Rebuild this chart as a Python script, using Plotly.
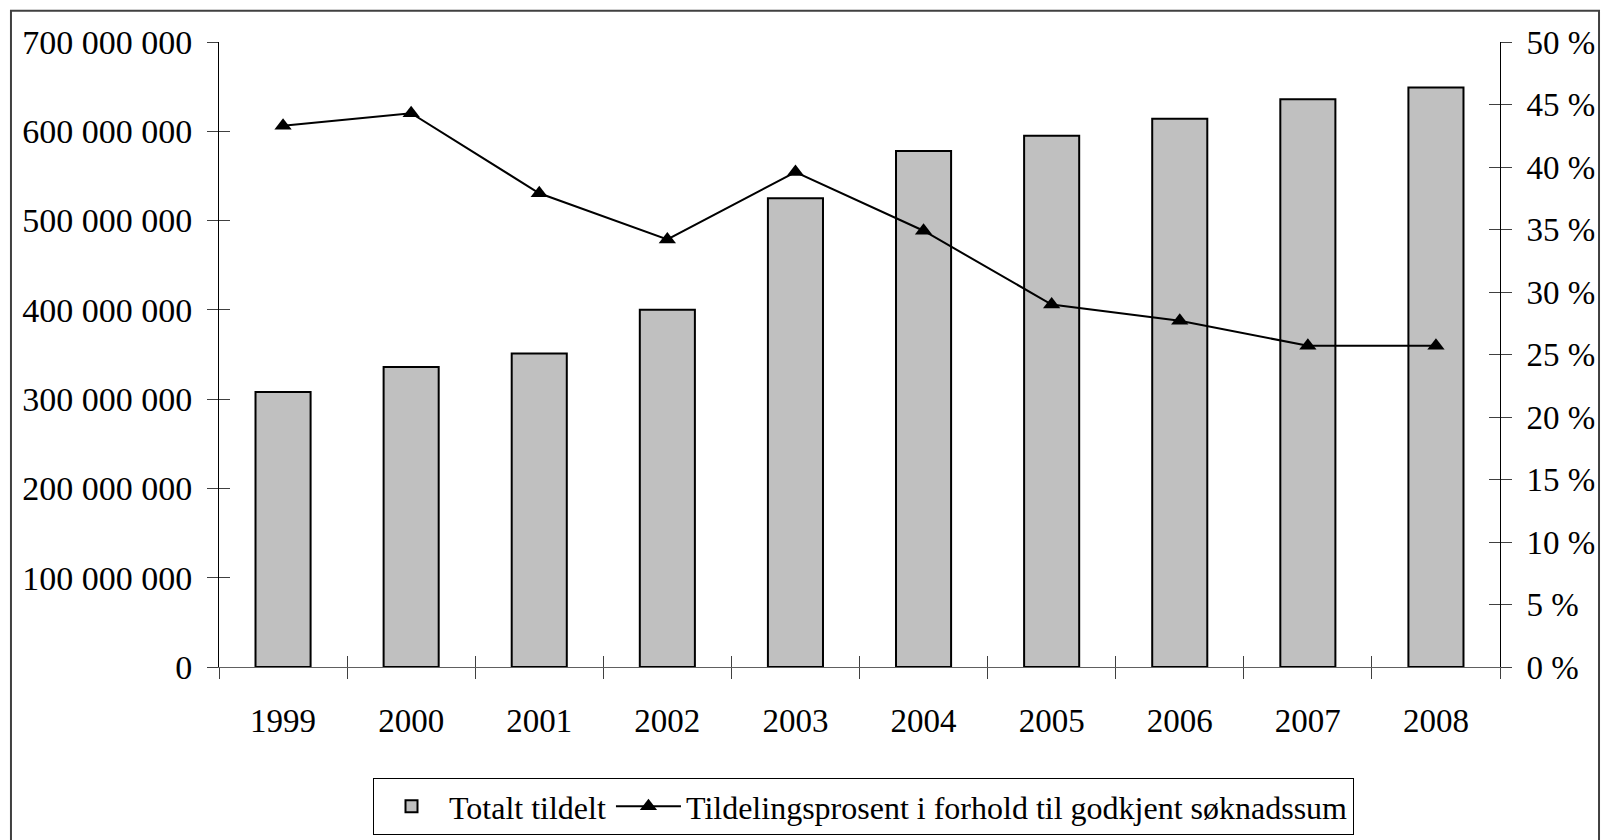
import plotly.graph_objects as go

years = ["1999", "2000", "2001", "2002", "2003", "2004", "2005", "2006", "2007", "2008"]
totalt_tildelt = [308e6, 336e6, 351e6, 400e6, 525e6, 578e6, 595e6, 614e6, 636e6, 649e6]
tildelingsprosent = [43.3, 44.3, 37.9, 34.2, 39.6, 34.9, 29.0, 27.7, 25.7, 25.7]
left_ticks = [0, 100e6, 200e6, 300e6, 400e6, 500e6, 600e6, 700e6]
right_ticks = [0, 5, 10, 15, 20, 25, 30, 35, 40, 45, 50]

left_text = ["{:,}".format(int(v)).replace(",", " ") for v in left_ticks]
right_text = ["{} %".format(v) for v in right_ticks]

FONT = "Liberation Serif"

fig = go.Figure()
fig.add_trace(go.Bar(
    x=years, y=totalt_tildelt, name="Totalt tildelt",
    marker=dict(color="#C0C0C0", line=dict(color="black", width=2)),
    width=0.43, xaxis="x", yaxis="y",
))
fig.add_trace(go.Scatter(
    x=years, y=tildelingsprosent, name="Tildelingsprosent i forhold til godkjent søknadssum",
    mode="lines+markers", xaxis="x", yaxis="y2",
    line=dict(color="black", width=2),
    marker=dict(symbol="triangle-up", size=15, color="black"),
))
# invisible helper traces so the inner halves of the crossing tick marks are drawn
fig.add_trace(go.Scatter(
    x=years, y=totalt_tildelt, xaxis="x2", yaxis="y3", mode="none",
    showlegend=False, hoverinfo="skip",
))
fig.add_trace(go.Scatter(
    x=years, y=tildelingsprosent, xaxis="x2", yaxis="y4", mode="none",
    showlegend=False, hoverinfo="skip",
))

tickfont = dict(family=FONT, size=33, color="black")
inner = dict(ticks="inside", ticklen=11, tickcolor="#404040", tickwidth=1,
             showticklabels=False, showgrid=False, zeroline=False, showline=False,
             automargin=False)

fig.update_layout(
    template="none",
    width=1601, height=840,
    margin=dict(l=219, r=101, t=42, b=173, autoexpand=False),
    paper_bgcolor="white", plot_bgcolor="white",
    font=dict(family=FONT, color="black"),
    showlegend=True,
    hovermode=False,
    legend=dict(
        orientation="h", xref="container", yref="container",
        x=373 / 1601, y=1 - 778 / 840, xanchor="left", yanchor="top",
        font=dict(family=FONT, size=32, color="black"),
        bordercolor="black", borderwidth=1, bgcolor="white",
        itemwidth=65, tracegroupgap=0,
    ),
    xaxis=dict(
        type="category", range=[-0.5, 9.5], tickson="boundaries",
        ticks="outside", ticklen=11,
        tickcolor="#404040", tickwidth=1, automargin=False,
        showline=True, linecolor="#606060", linewidth=1,
        showgrid=False, zeroline=False, tickfont=tickfont,
        ticklabelstandoff=24,
    ),
    xaxis2=dict(
        overlaying="x", anchor="y", side="bottom", type="category",
        range=[-0.5, 9.5], tickson="boundaries", **inner,
    ),
    yaxis=dict(
        range=[0, 700e6], tickmode="array", tickvals=left_ticks, ticktext=left_text,
        ticks="outside", ticklen=11, tickcolor="#404040", tickwidth=1, automargin=False,
        showline=True, linecolor="black", linewidth=1,
        showgrid=False, zeroline=False, tickfont=dict(family=FONT, size=34, color="black"),
        ticklabelstandoff=8,
    ),
    yaxis2=dict(
        range=[0, 50], tickmode="array", tickvals=right_ticks, ticktext=right_text,
        overlaying="y", side="right", anchor="x", automargin=False,
        ticks="outside", ticklen=11, tickcolor="#404040", tickwidth=1,
        showline=True, linecolor="black", linewidth=1,
        showgrid=False, zeroline=False, tickfont=tickfont,
        ticklabelstandoff=8,
    ),
    yaxis3=dict(
        range=[0, 700e6], tickmode="array", tickvals=left_ticks,
        overlaying="y", side="left", anchor="x2", **inner,
    ),
    yaxis4=dict(
        range=[0, 50], tickmode="array", tickvals=right_ticks,
        overlaying="y", side="right", anchor="x2", **inner,
    ),
    shapes=[dict(
        type="rect", xref="paper", yref="paper",
        x0=-0.1624, x1=1.0773, y0=-0.30, y1=1.0501,
        line=dict(color="#404040", width=2), fillcolor="rgba(0,0,0,0)", layer="below",
    )],
)

fig.write_html(
    "out.html",
    config={"displayModeBar": False},
    post_script="document.body.style.margin='0';document.body.style.padding='0';",
)
